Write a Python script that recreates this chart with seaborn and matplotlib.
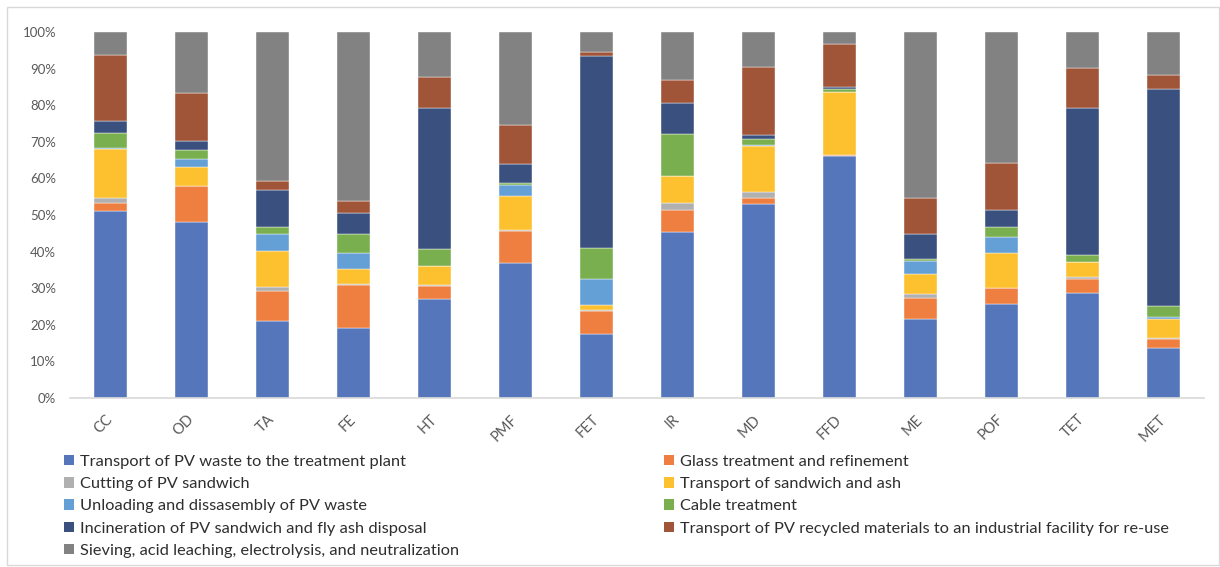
import numpy as np
import pandas as pd
import matplotlib
matplotlib.use("Agg")
import matplotlib.pyplot as plt
import matplotlib.patches as mpatches
import seaborn as sns

# Impact categories along the x axis
categories = ["CC", "OD", "TA", "FE", "HT", "PMF", "FET", "IR", "MD", "FFD",
              "ME", "POF", "TET", "MET"]

# Process stages (stack order, bottom to top)
stages = [
    "Transport of PV waste to the treatment plant",
    "Glass treatment and refinement",
    "Cutting of PV sandwich",
    "Transport of sandwich and ash",
    "Unloading and dissasembly of PV waste",
    "Cable treatment",
    "Incineration of PV sandwich and fly ash disposal",
    "Transport of PV recycled materials to an industrial facility for re-use",
    "Sieving, acid leaching, electrolysis, and neutralization",
]

# Contribution (%) of each stage to each impact category
transport_waste = [51.0, 48.2, 21.0, 19.1, 27.1, 37.0, 17.3, 45.3, 53.0, 66.2, 21.6, 25.7, 28.6, 13.6]
glass_treatment = [2.4, 9.7, 8.2, 11.8, 3.6, 8.7, 6.4, 6.2, 1.6, 0.1, 5.8, 4.3, 3.8, 2.6]
cutting = [1.3, 0.1, 1.2, 0.2, 0.1, 0.1, 0.3, 1.8, 1.6, 0.0, 0.9, 0.1, 0.6, 0.1]
transport_sandwich = [13.3, 5.3, 9.7, 4.1, 5.2, 9.3, 1.5, 7.4, 12.8, 17.3, 5.5, 9.6, 4.1, 5.3]
unloading = [0.3, 2.1, 4.8, 4.5, 0.1, 3.2, 6.9, 0.1, 0.1, 0.0, 3.7, 4.3, 0.1, 0.4]
cable = [4.2, 2.4, 1.8, 5.1, 4.7, 0.4, 8.5, 11.4, 1.7, 0.9, 0.5, 2.6, 1.8, 3.1]
incineration = [3.2, 2.6, 10.1, 5.7, 38.5, 5.2, 52.5, 8.5, 1.2, 0.6, 6.9, 4.8, 40.4, 59.5]
transport_recycled = [18.2, 13.2, 2.6, 3.3, 8.6, 10.6, 1.2, 6.3, 18.4, 11.7, 9.8, 12.7, 10.9, 3.7]
sieving = [6.1, 16.5, 40.6, 46.2, 12.1, 25.5, 5.4, 13.0, 9.6, 3.2, 45.3, 35.9, 9.7, 11.7]

colors = ["#5576BA", "#EE7F40", "#B0B0B0", "#FDC02E", "#64A0D6",
          "#79AF4E", "#3A507F", "#A05438", "#828282"]

series = [transport_waste, glass_treatment, cutting, transport_sandwich,
          unloading, cable, incineration, transport_recycled, sieving]

# Long-form table, normalised to a 100 % stack per category
rows = []
for stage, vals in zip(stages, series):
    for cat, v in zip(categories, vals):
        rows.append({"category": cat, "stage": stage, "value": v})
df = pd.DataFrame(rows)
totals = df.groupby("category")["value"].transform("sum")
df["share"] = df["value"] / totals

sns.set_theme(style="white")
plt.rcParams["font.family"] = ["Lato", "DejaVu Sans"]

fig = plt.figure(figsize=(12.2, 5.67), dpi=100)
ax = fig.add_axes([70 / 1220, 1 - 397.7 / 567, 1134 / 1220, 365.4 / 567])

bottom = np.zeros(len(categories))
for stage, color in zip(stages, colors):
    sub = df[df["stage"] == stage].set_index("category").loc[categories]
    sns.barplot(x=categories, y=sub["share"].values, bottom=bottom,
                color=color, width=0.4, ax=ax, saturation=1,
                edgecolor="#FFFFFF", linewidth=0.3)
    bottom = bottom + sub["share"].values

if ax.get_legend() is not None:
    ax.get_legend().remove()

ax.set_xlim(-0.5, len(categories) - 0.5)
ax.set_ylim(0, 1)
yt = np.arange(0, 1.01, 0.1)
ax.set_yticks(yt)
ax.set_yticklabels([f"{int(round(t * 100))}%" for t in yt])
ax.set_xticks(range(len(categories)))
ax.set_xticklabels(categories, rotation=45, ha="right", va="center",
                   rotation_mode="anchor")
ax.set_xlabel("")
ax.set_ylabel("")
for s in ["top", "right", "left"]:
    ax.spines[s].set_visible(False)
ax.spines["bottom"].set_color("#D9D9D9")
ax.spines["bottom"].set_linewidth(1.2)
ax.tick_params(axis="both", length=0, colors="#595959", labelsize=9.5)
ax.tick_params(axis="x", labelsize=10.5, pad=14)
ax.tick_params(axis="y", pad=10)

# Legend in two columns, read row by row
handles = [mpatches.Patch(facecolor=c, edgecolor="none") for c in colors]
left_idx = [0, 2, 4, 6, 8]
right_idx = [1, 3, 5, 7]
common = dict(frameon=False, loc="upper left", borderaxespad=0, borderpad=0,
              handlelength=0.6, handleheight=0.6, handletextpad=0.35,
              labelspacing=0.5, fontsize=11.8, labelcolor="#2E2E2E")
fig.legend([handles[i] for i in left_idx], [stages[i] for i in left_idx],
           bbox_to_anchor=(64 / 1220, 1 - 455 / 567), **common)
fig.legend([handles[i] for i in right_idx], [stages[i] for i in right_idx],
           bbox_to_anchor=(664 / 1220, 1 - 455 / 567), **common)

# Light chart-area frame
fig.patches.append(mpatches.Rectangle((7 / 1220, 2 / 567), 1212 / 1220, 558 / 567,
                                      transform=fig.transFigure, fill=False,
                                      edgecolor="#D9D9D9", linewidth=1))

fig.savefig("out.png", dpi=100)
